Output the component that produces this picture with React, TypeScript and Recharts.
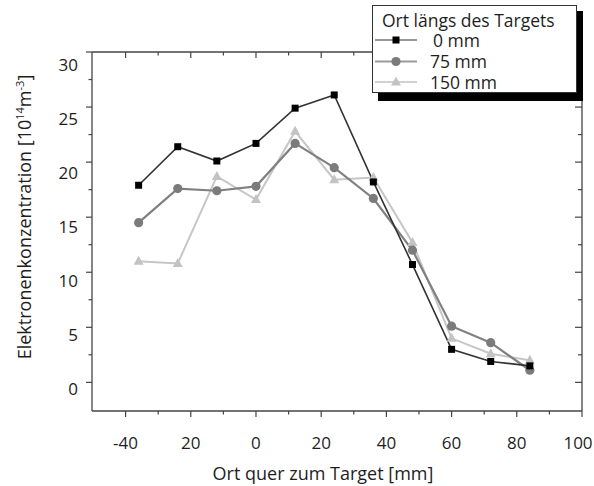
import React from 'react';
import { LineChart, Line, XAxis, YAxis } from 'recharts';

// Ort quer zum Target [mm]
const positions = [-36, -24, -12, 0, 12, 24, 36, 48, 60, 72, 84];

// Elektronenkonzentration [10^14 m^-3] per Ort längs des Targets
const conc0mm = [17.9, 21.4, 20.1, 21.7, 24.9, 26.1, 18.2, 10.7, 3.0, 1.9, 1.5];
const conc75mm = [14.5, 17.6, 17.4, 17.8, 21.7, 19.5, 16.7, 12.0, 5.1, 3.6, 1.1];
const conc150mm = [11.0, 10.8, 18.7, 16.6, 22.8, 18.4, 18.6, 12.7, 4.0, 2.6, 2.0];

const xTicks = [-40, -30, -20, -10, 0, 10, 20, 30, 40, 50, 60, 70, 80, 90, 100];
const yTicks = [0, 2.5, 5, 7.5, 10, 12.5, 15, 17.5, 20, 22.5, 25, 27.5, 30];

const legendTitle = 'Ort längs des Targets';
const seriesNames = ['0 mm', '75 mm', '150 mm'];

const data = positions.map((x, i) => ({
  x,
  s0: conc0mm[i],
  s75: conc75mm[i],
  s150: conc150mm[i],
}));

const FONT = '"Open Sans", "DejaVu Sans", sans-serif';
const INK = '#1e1e1e';
const AXIS = '#444';

// the source prints "20" for -20
const xLabel = (v: number) => (v === -20 ? '20' : String(v));

const BottomTick = (props: any) => {
  const { x, y, payload } = props;
  const v = payload.value;
  const major = v % 20 === 0;
  return (
    <g>
      <line x1={x} y1={y} x2={x} y2={y + (major ? 6 : 3.5)} stroke={AXIS} strokeWidth={1.2} />
      {major && (
        <text x={Math.min(x, 578)} y={y + 31} textAnchor="middle" dominantBaseline="central"
          fontFamily={FONT} fontSize={17} fill={INK}>
          {xLabel(v)}
        </text>
      )}
    </g>
  );
};

const TopTick = (props: any) => {
  const { x, y, payload } = props;
  const major = payload.value % 20 === 0;
  return <line x1={x} y1={y} x2={x} y2={y + (major ? 6 : 3.5)} stroke={AXIS} strokeWidth={1.2} />;
};

const LeftTick = (props: any) => {
  const { x, y, payload } = props;
  const v = payload.value;
  const major = v % 5 === 0;
  return (
    <g>
      <line x1={x - (major ? 6 : 3.5)} y1={y} x2={x} y2={y} stroke={AXIS} strokeWidth={1.2} />
      {major && (
        // labels in the source sit a little below their ticks
        <text x={x - 14} y={y + 5.8 + v * 0.23} textAnchor="end" dominantBaseline="central"
          fontFamily={FONT} fontSize={17} fill={INK}>
          {v}
        </text>
      )}
    </g>
  );
};

const RightTick = (props: any) => {
  const { x, y, payload } = props;
  const major = payload.value % 5 === 0;
  return <line x1={x - (major ? 7 : 4)} y1={y} x2={x} y2={y} stroke={AXIS} strokeWidth={1.2} />;
};

const SquareDot = (props: any) => {
  const { cx, cy, index } = props;
  return <rect key={`sq-${index}`} x={cx - 3.5} y={cy - 3.5} width={7} height={7} fill="#000" />;
};

const CircleDot = (props: any) => {
  const { cx, cy, index } = props;
  return <circle key={`ci-${index}`} cx={cx} cy={cy} r={4.6} fill="#7b7b7b" />;
};

const TriangleDot = (props: any) => {
  const { cx, cy, index } = props;
  return (
    <polygon key={`tr-${index}`} fill="#c3c3c3"
      points={`${cx},${cy - 5.5} ${cx + 5},${cy + 3.5} ${cx - 5},${cy + 3.5}`} />
  );
};

const series = [
  { key: 's150', name: seriesNames[2], stroke: '#c6c6c6', width: 2, dot: TriangleDot, legendLine: '#d0d0d0' },
  { key: 's75', name: seriesNames[1], stroke: '#808080', width: 2.2, dot: CircleDot, legendLine: '#9a9a9a' },
  { key: 's0', name: seriesNames[0], stroke: '#333', width: 1.6, dot: SquareDot, legendLine: '#999' },
];

const YTitle = () => (
  <svg width={40} height={486} style={{ position: 'absolute', left: 0, top: 0 }}>
    <text transform="translate(31,217) rotate(-90)" textAnchor="middle"
      fontFamily={FONT} fontSize={18} fill={INK}>
      Elektronenkonzentration [10
      <tspan dy={-7} fontSize={11}>14</tspan>
      <tspan dy={7}>m</tspan>
      <tspan dy={-7} fontSize={11}>-3</tspan>
      <tspan dy={7}>]</tspan>
    </text>
  </svg>
);

const LegendBox = () => {
  const rows = [...series].reverse();
  const symbolY = [35, 56.5, 77];
  const textY = [42, 63, 84];
  return (
    <svg width={214} height={100} style={{ position: 'absolute', left: 372, top: 5 }}>
      <rect x={6} y={6} width={205} height={90} fill="#000" />
      <rect x={0.5} y={0.5} width={204} height={87} fill="#fff" stroke="#333" strokeWidth={1} />
      <text x={10} y={21.5} fontFamily={FONT} fontSize={17.5} fill={INK}>{legendTitle}</text>
      {rows.map((s, i) => {
        const Dot = s.dot;
        return (
          <g key={s.key}>
            <line x1={3} y1={symbolY[i]} x2={45} y2={symbolY[i]} stroke={s.legendLine} strokeWidth={2} />
            <Dot cx={24} cy={symbolY[i]} index={i} />
            <text x={i === 0 ? 61 : 58} y={textY[i]} fontFamily={FONT} fontSize={17.5} fill={INK}>
              {s.name}
            </text>
          </g>
        );
      })}
    </svg>
  );
};

export default function App() {
  return (
    <div style={{ position: 'absolute', left: 0, top: 0, width: 594, height: 486, background: '#fff' }}>
      <LineChart width={594} height={486} data={data}
        margin={{ top: 51, right: 11, bottom: 0, left: 0 }}>
        <XAxis dataKey="x" type="number" domain={[-50.3, 100]} allowDataOverflow ticks={xTicks}
          interval={0} height={75} tickSize={0} tickMargin={0} tickLine={false}
          axisLine={{ stroke: AXIS, strokeWidth: 1.3 }} tick={(p: any) => <BottomTick {...p} />} />
        <XAxis xAxisId="top" orientation="top" dataKey="x" type="number" domain={[-50.3, 100]}
          allowDataOverflow ticks={xTicks} interval={0} height={1} tickSize={0} tickMargin={0}
          tickLine={false} axisLine={{ stroke: AXIS, strokeWidth: 1.3 }}
          tick={(p: any) => <TopTick {...p} />} />
        <YAxis type="number" domain={[-2.6, 30]} allowDataOverflow ticks={yTicks} interval={0}
          width={92} tickSize={0} tickMargin={0} tickLine={false}
          axisLine={{ stroke: AXIS, strokeWidth: 1.3 }} tick={(p: any) => <LeftTick {...p} />} />
        <YAxis yAxisId="right" orientation="right" type="number" domain={[-2.6, 30]} allowDataOverflow
          ticks={yTicks} interval={0} width={1} tickSize={0} tickMargin={0} tickLine={false}
          axisLine={{ stroke: AXIS, strokeWidth: 1.3 }} tick={(p: any) => <RightTick {...p} />} />
        {series.map((s) => (
          <Line key={s.key} dataKey={s.key} name={s.name} type="linear" stroke={s.stroke}
            strokeWidth={s.width} dot={(p: any) => <s.dot {...p} key={`${s.key}-${p.index}`} />}
            activeDot={false} isAnimationActive={false} />
        ))}
      </LineChart>
      <YTitle />
      <div style={{ position: 'absolute', left: 0, top: 462, width: 594, textAlign: 'center',
        fontFamily: FONT, fontSize: 18, color: INK, lineHeight: '22px', paddingLeft: 52, boxSizing: 'border-box' }}>
        Ort quer zum Target [mm]
      </div>
      <LegendBox />
    </div>
  );
}
